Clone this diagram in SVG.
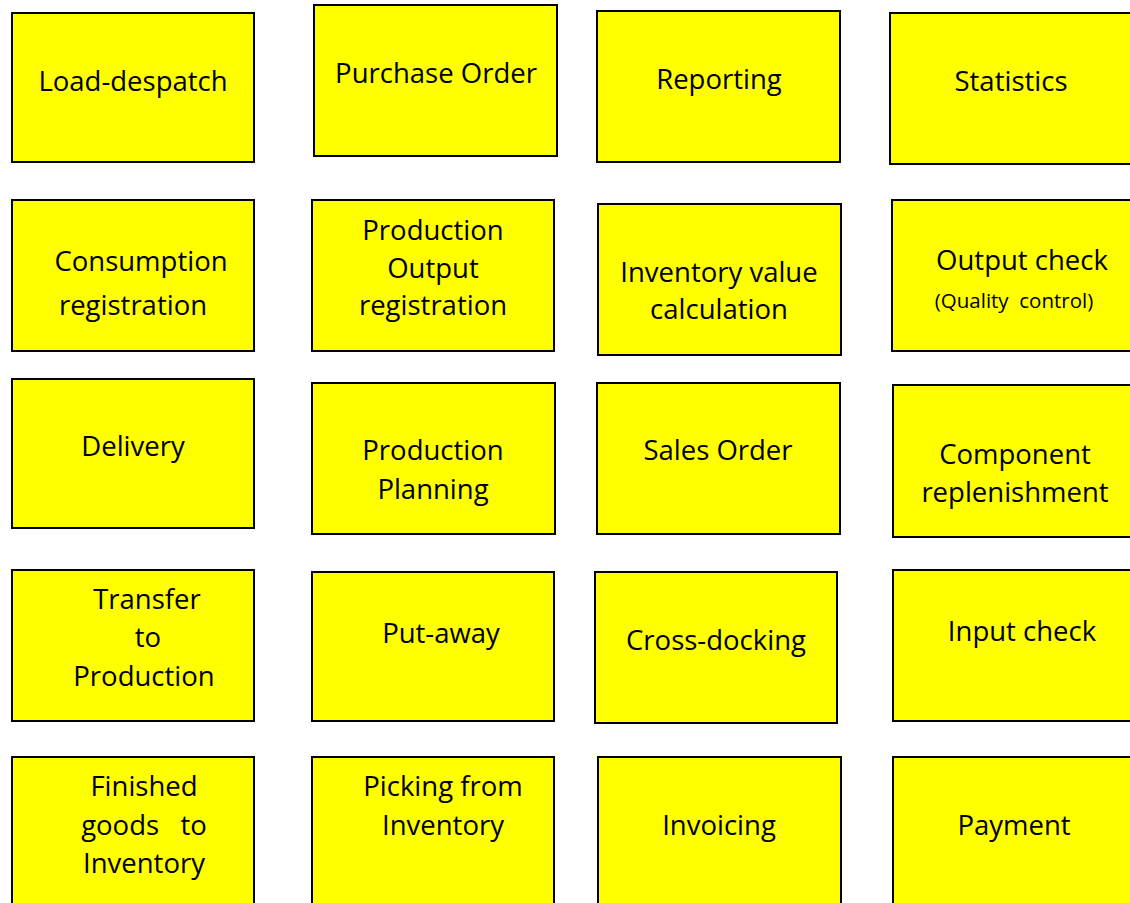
<svg xmlns="http://www.w3.org/2000/svg" width="1130" height="903" viewBox="0 0 1130 903">
<style>
.b{fill:#ffff00;stroke:#000;stroke-width:2}
.t{font-family:"Open Sans","Liberation Sans",sans-serif;font-size:27.5px;fill:#000;text-anchor:middle}
.s{font-size:20.5px}
</style>
<rect width="1130" height="903" fill="#fff"/>
<g id="connectors"></g>
<g id="n1"><rect class="b" x="12" y="13" width="242" height="149"/><text class="t" x="133" y="91">Load-despatch</text></g>
<g id="n2"><rect class="b" x="314" y="5" width="243" height="151"/><text class="t" x="436" y="83">Purchase Order</text></g>
<g id="n3"><rect class="b" x="597" y="11" width="243" height="151"/><text class="t" x="719" y="89">Reporting</text></g>
<g id="n4"><rect class="b" x="890" y="13" width="245" height="151"/><text class="t" x="1011" y="91">Statistics</text></g>
<g id="n5"><rect class="b" x="12" y="200" width="242" height="151"/><text class="t" x="141" y="271">Consumption</text><text class="t" x="133" y="315">registration</text></g>
<g id="n6"><rect class="b" x="312" y="200" width="242" height="151"/><text class="t" x="433" y="240">Production</text><text class="t" x="433" y="278">Output</text><text class="t" x="433" y="315">registration</text></g>
<g id="n7"><rect class="b" x="598" y="204" width="243" height="151"/><text class="t" x="719" y="282">Inventory value</text><text class="t" x="719" y="319">calculation</text></g>
<g id="n8"><rect class="b" x="892" y="200" width="243" height="151"/><text class="t" x="1022" y="270">Output check</text><text class="t s" x="1014" y="308" xml:space="preserve">(Quality  control)</text></g>
<g id="n9"><rect class="b" x="12" y="379" width="242" height="149"/><text class="t" x="133" y="456">Delivery</text></g>
<g id="n10"><rect class="b" x="312" y="383" width="243" height="151"/><text class="t" x="433" y="460">Production</text><text class="t" x="433" y="499">Planning</text></g>
<g id="n11"><rect class="b" x="597" y="383" width="243" height="151"/><text class="t" x="718" y="460">Sales Order</text></g>
<g id="n12"><rect class="b" x="893" y="385" width="242" height="152"/><text class="t" x="1015" y="464">Component</text><text class="t" x="1015" y="502">replenishment</text></g>
<g id="n13"><rect class="b" x="12" y="570" width="242" height="151"/><text class="t" x="147" y="609">Transfer</text><text class="t" x="148" y="647">to</text><text class="t" x="144" y="686">Production</text></g>
<g id="n14"><rect class="b" x="312" y="572" width="242" height="149"/><text class="t" x="441" y="643">Put-away</text></g>
<g id="n15"><rect class="b" x="595" y="572" width="242" height="151"/><text class="t" x="716" y="650">Cross-docking</text></g>
<g id="n16"><rect class="b" x="893" y="570" width="242" height="151"/><text class="t" x="1022" y="641">Input check</text></g>
<g id="n17"><rect class="b" x="12" y="757" width="242" height="160"/><text class="t" x="144" y="796">Finished</text><text class="t" x="144" y="835" xml:space="preserve">goods   to</text><text class="t" x="144" y="873">Inventory</text></g>
<g id="n18"><rect class="b" x="312" y="757" width="242" height="160"/><text class="t" x="443" y="796">Picking from</text><text class="t" x="443" y="835">Inventory</text></g>
<g id="n19"><rect class="b" x="598" y="757" width="243" height="160"/><text class="t" x="719" y="835">Invoicing</text></g>
<g id="n20"><rect class="b" x="893" y="757" width="242" height="160"/><text class="t" x="1014" y="835">Payment</text></g>
</svg>
